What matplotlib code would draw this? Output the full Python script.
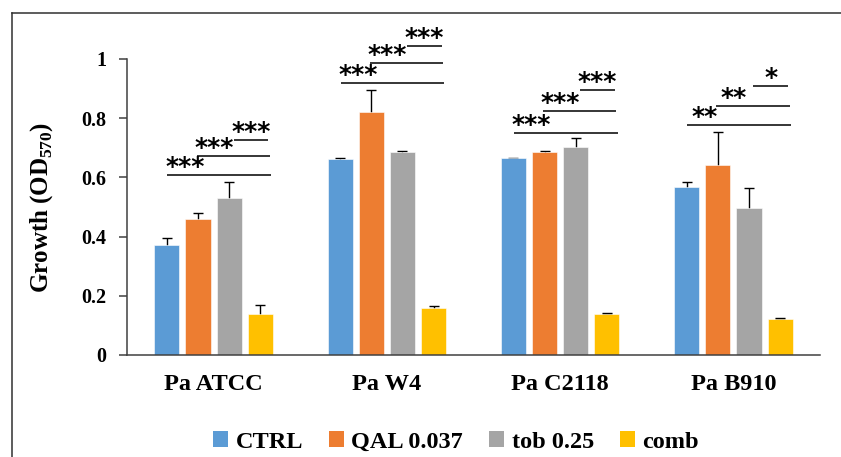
import matplotlib
matplotlib.use("Agg")
import matplotlib.pyplot as plt
import numpy as np
from matplotlib.patches import Patch
from matplotlib.lines import Line2D

# ---- data ----
categories = ["Pa ATCC", "Pa W4", "Pa C2118", "Pa B910"]
series_names = ["CTRL", "QAL 0.037", "tob 0.25", "comb"]
ctrl = [0.373, 0.662, 0.664, 0.569]
qal = [0.461, 0.822, 0.685, 0.641]
tob = [0.532, 0.685, 0.702, 0.495]
comb = [0.139, 0.160, 0.140, 0.122]
ctrl_err = [0.022, 0.004, 0.003, 0.014]
qal_err = [0.020, 0.074, 0.003, 0.112]
tob_err = [0.054, 0.004, 0.030, 0.068]
comb_err = [0.030, 0.004, 0.003, 0.002]
sig_labels = [["***", "***", "***"],
              ["***", "***", "***"],
              ["***", "***", "***"],
              ["**", "**", "*"]]
sig_levels = [[0.607, 0.671, 0.725],
              [0.919, 0.986, 1.044],
              [0.749, 0.824, 0.895],
              [0.776, 0.841, 0.908]]
y_ticks = [0, 0.2, 0.4, 0.6, 0.8, 1]
y_tick_labels = ["0", "0.2", "0.4", "0.6", "0.8", "1"]

colors = ["#5B9BD5", "#ED7D31", "#A5A5A5", "#FFC000"]

plt.rcParams["font.family"] = ["Liberation Serif", "DejaVu Serif"]
plt.rcParams["font.weight"] = "bold"
plt.rcParams["mathtext.fontset"] = "custom"
plt.rcParams["mathtext.rm"] = "Liberation Serif"
plt.rcParams["mathtext.bf"] = "Liberation Serif:bold"

fig = plt.figure(figsize=(8.41, 4.57), dpi=100)
ax = fig.add_axes([127/841, 1-355/457, (820-127)/841, (355-59)/457])

x = np.arange(len(categories))
step = 0.180
width = 0.145
values = [ctrl, qal, tob, comb]
errs = [ctrl_err, qal_err, tob_err, comb_err]
for i, (v, e) in enumerate(zip(values, errs)):
    ax.bar(x + (i - 1.5) * step, v, width, color=colors[i], edgecolor="white",
           linewidth=0.4, zorder=2)
    ax.errorbar(x + (i - 1.5) * step, v, yerr=e, fmt="none",
                ecolor="black", elinewidth=1.0, capsize=3.3, capthick=1.0, zorder=1)

ax.set_xlim(-0.5, 3.5)
ax.set_ylim(0, 1)
ax.set_yticks(y_ticks)
ax.set_yticklabels(y_tick_labels, fontsize=14.5, fontweight="bold")
ax.set_xticks(x)
ax.set_xticklabels(categories, fontsize=17.5, fontweight="bold")
ax.tick_params(axis="x", length=0, pad=14)
ax.tick_params(axis="y", length=6, width=1.1, direction="out", pad=9, color="#404040")
for s in ["top", "right"]:
    ax.spines[s].set_visible(False)
for s in ["left", "bottom"]:
    ax.spines[s].set_linewidth(1.1)
    ax.spines[s].set_color("#404040")

ax.set_ylabel(r"Growth (OD$_{\mathbf{570}}$)", fontsize=18, fontweight="bold")
ax.yaxis.set_label_coords(-0.104, 0.5)

# significance brackets
starts = [-0.267, -0.098, 0.115]
ends = [0.332, 0.325, 0.316]
for g in range(len(categories)):
    for k in range(3):
        yv = sig_levels[g][k]
        ax.plot([x[g] + starts[k], x[g] + ends[k]], [yv, yv], color="black",
                lw=1.1, clip_on=False, zorder=4, solid_capstyle="butt")
        ax.annotate(sig_labels[g][k], xy=(x[g] + starts[k] + 0.1, yv),
                    xytext=(0, 0.8), textcoords="offset points",
                    ha="center", va="baseline", fontsize=18,
                    family="DejaVu Sans", fontweight="bold",
                    annotation_clip=False)

# legend
handles = [Patch(facecolor=c, edgecolor="none") for c in colors]
fig.legend(handles, series_names, loc="center", bbox_to_anchor=(456/841, 1-442/457),
           ncol=4, frameon=False, prop={"size": 17.5, "weight": "bold"},
           handlelength=0.62, handleheight=0.62, handletextpad=0.3,
           columnspacing=1.07, borderaxespad=0, borderpad=0)

# outer frame (top and left visible)
fy = 1 - 13/457
fx = 12/841
fig.add_artist(Line2D([fx, 1.0], [fy, fy], transform=fig.transFigure,
                      color="#303030", lw=1.1))
fig.add_artist(Line2D([fx, fx], [0, fy], transform=fig.transFigure,
                      color="#303030", lw=1.1))

fig.savefig("out.png", dpi=100)
